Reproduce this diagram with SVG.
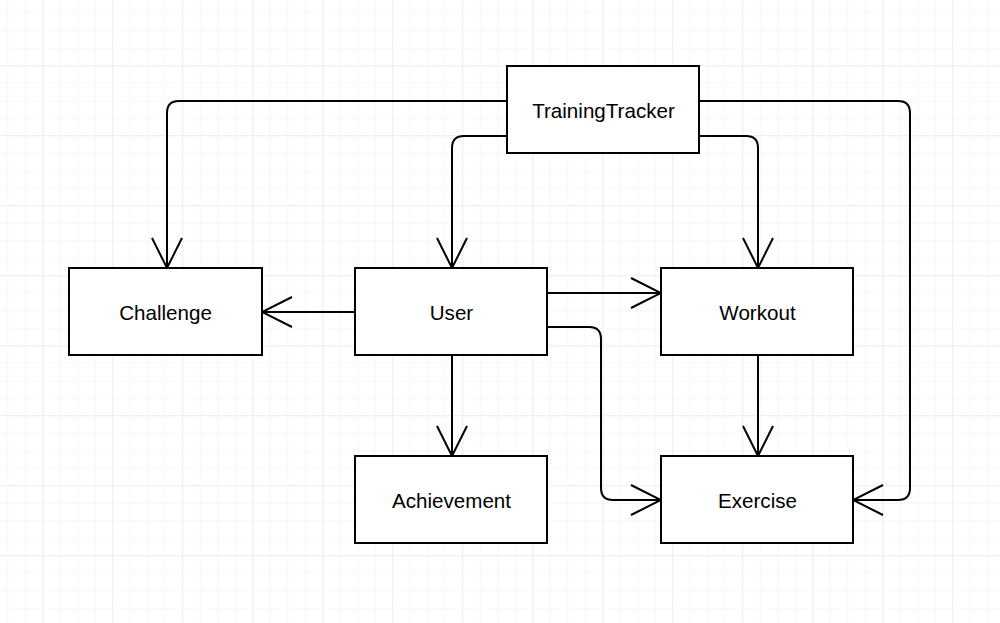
<svg xmlns="http://www.w3.org/2000/svg" width="1000" height="623" viewBox="0 0 1000 623">
<defs>
<pattern id="minor" patternUnits="userSpaceOnUse" x="7.3" y="12.8" width="17.5" height="17.5">
<path d="M0 0H17.5M0 0V17.5" fill="none" stroke="#f0f0f0" stroke-width="1"/>
</pattern>
<pattern id="major" patternUnits="userSpaceOnUse" x="42.3" y="65.3" width="70" height="70">
<path d="M0 0H70M0 0V70" fill="none" stroke="#e4e4e4" stroke-width="1"/>
</pattern>
<marker id="arr" markerUnits="userSpaceOnUse" viewBox="-32 -17 34 34" refX="0" refY="0" markerWidth="34" markerHeight="34" orient="auto">
<path d="M-30 -15L0 0L-30 15" fill="none" stroke="#000" stroke-width="2"/>
</marker>
</defs>
<style>
.box{fill:#fff;stroke:#000;stroke-width:2}
.lbl{font-family:"Liberation Sans",Arial,sans-serif;font-size:20.6px;fill:#000;text-anchor:middle}
.edge{fill:none;stroke:#000;stroke-width:2;marker-end:url(#arr)}
</style>
<rect width="1000" height="623" fill="#fff"/>
<rect width="1000" height="623" fill="url(#minor)"/>
<rect width="1000" height="623" fill="url(#major)"/>
<g id="connectors">
<path class="edge" d="M507 101H179Q167 101 167 113V268"/>
<path class="edge" d="M507 136H464Q452 136 452 148V268"/>
<path class="edge" d="M699 136H746Q758 136 758 148V268"/>
<path class="edge" d="M699 101H898Q910 101 910 113V488Q910 500 898 500H853"/>
<path class="edge" d="M355 312H262"/>
<path class="edge" d="M547 293H661"/>
<path class="edge" d="M547 327H589Q601 327 601 339V488Q601 500 613 500H661"/>
<path class="edge" d="M452 355V456"/>
<path class="edge" d="M758 355V456"/>
</g>
<g id="TrainingTracker"><rect class="box" x="507" y="66" width="192" height="87"/><text class="lbl" x="603.5" y="118">TrainingTracker</text></g>
<g id="Challenge"><rect class="box" x="69" y="268" width="193" height="87"/><text class="lbl" x="165.5" y="320">Challenge</text></g>
<g id="User"><rect class="box" x="355" y="268" width="192" height="87"/><text class="lbl" x="451.5" y="320">User</text></g>
<g id="Workout"><rect class="box" x="661" y="268" width="192" height="87"/><text class="lbl" x="757.5" y="320">Workout</text></g>
<g id="Achievement"><rect class="box" x="355" y="456" width="192" height="87"/><text class="lbl" x="451.5" y="508">Achievement</text></g>
<g id="Exercise"><rect class="box" x="661" y="456" width="192" height="87"/><text class="lbl" x="757.5" y="508">Exercise</text></g>
</svg>
